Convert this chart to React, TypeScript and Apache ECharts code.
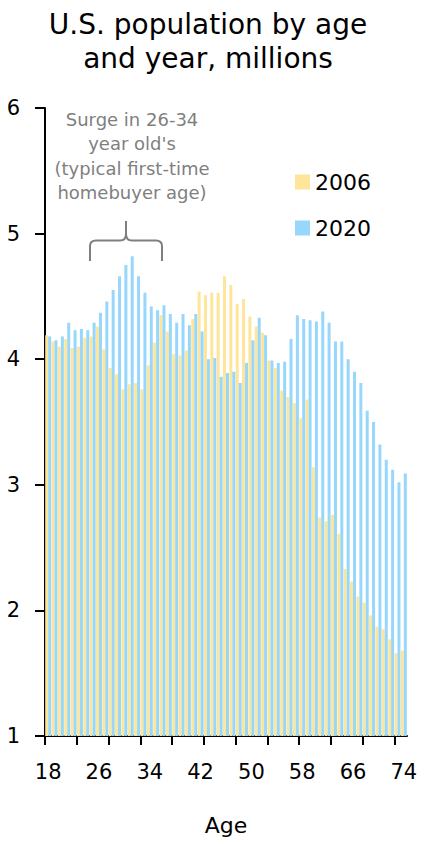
import React, { useEffect, useRef } from "react";
import * as echarts from "echarts";

const ages = [
  "18", "19", "20", "21", "22", "23", "24", "25", "26", "27",
  "28", "29", "30", "31", "32", "33", "34", "35", "36", "37",
  "38", "39", "40", "41", "42", "43", "44", "45", "46", "47",
  "48", "49", "50", "51", "52", "53", "54", "55", "56", "57",
  "58", "59", "60", "61", "62", "63", "64", "65", "66", "67",
  "68", "69", "70", "71", "72", "73", "74",
];
const tickBoundaries = [...ages, "75"];

const pop2006 = [
  4.19, 4.14, 4.10, 4.16, 4.09, 4.10, 4.17, 4.18, 4.26, 4.08,
  3.93, 3.88, 3.76, 3.80, 3.81, 3.76, 3.95, 4.13, 4.35, 4.22,
  4.04, 4.03, 4.07, 4.32, 4.54, 4.51, 4.53, 4.53, 4.66, 4.59,
  4.44, 4.48, 4.34, 4.26, 4.21, 3.99, 3.93, 3.75, 3.70, 3.65,
  3.53, 3.68, 3.14, 2.74, 2.71, 2.76, 2.61, 2.33, 2.23, 2.11,
  2.06, 1.96, 1.87, 1.85, 1.77, 1.66, 1.68,
];
const pop2020 = [
  4.18, 4.15, 4.18, 4.29, 4.23, 4.24, 4.23, 4.29, 4.37, 4.46,
  4.55, 4.66, 4.75, 4.82, 4.66, 4.53, 4.42, 4.39, 4.43, 4.36,
  4.29, 4.36, 4.27, 4.36, 4.22, 4.00, 4.01, 3.86, 3.89, 3.90,
  3.81, 3.97, 4.15, 4.33, 4.19, 3.99, 3.97, 3.98, 4.16, 4.35,
  4.32, 4.31, 4.30, 4.38, 4.29, 4.14, 4.14, 4.00, 3.90, 3.81,
  3.59, 3.50, 3.32, 3.20, 3.12, 3.02, 3.09,
];
const seriesNames = ["2006", "2020"];
const yTicks = { min: 1, max: 6, interval: 1 };

const FONT = "DejaVu Sans";
const C2006 = "#FFE59A";
const C2020 = "#96D7FB";

const BRACE_D =
  "M90,261 L90,246 Q90,240.5 96,240.5 L120,240.5 Q126,240.5 126,234 L126,221 M126,234 Q126,240.5 132,240.5 L156,240.5 Q162,240.5 162,246 L162,261";

let registered = false;
function ensureShape() {
  if (registered) return;
  echarts.graphic.registerShape("brace", echarts.graphic.extendPath(BRACE_D, {}));
  registered = true;
}

export default function App() {
  const ref = useRef<HTMLDivElement>(null);
  useEffect(() => {
    if (!ref.current) return;
    ensureShape();
    const chart = echarts.init(ref.current, undefined, { renderer: "svg" });
    chart.setOption({
      animation: false,
      backgroundColor: "#fff",
      textStyle: { fontFamily: FONT },
      title: {
        text: "U.S. population by age\nand year, millions",
        left: 203,
        top: 2,
        textAlign: "center",
        textStyle: {
          fontFamily: FONT,
          fontSize: 28,
          lineHeight: 34,
          fontWeight: "normal",
          color: "#000",
        },
      },
      legend: {
        data: seriesNames,
        orient: "vertical",
        left: 290,
        top: 166,
        itemWidth: 15,
        itemHeight: 15,
        itemGap: 24,
        icon: "rect",
        textStyle: { fontFamily: FONT, fontSize: 22, lineHeight: 22, color: "#000" },
      },
      grid: { left: 45, right: 18, top: 108, bottom: 108, containLabel: false },
      xAxis: [
        {
          type: "category",
          data: ages,
          position: "bottom",
          boundaryGap: true,
          axisLine: { lineStyle: { color: "#000", width: 2 } },
          axisTick: { show: false },
          axisLabel: {
            interval: 7,
            fontFamily: FONT,
            fontSize: 21,
            color: "#000",
            margin: 25,
          },
          name: "Age",
          nameLocation: "middle",
          nameGap: 78,
          nameTextStyle: { fontFamily: FONT, fontSize: 22, color: "#000" },
        },
        {
          type: "category",
          data: tickBoundaries,
          position: "bottom",
          boundaryGap: false,
          axisLine: { show: false },
          axisLabel: { show: false },
          splitLine: { show: false },
          axisTick: {
            show: true,
            interval: 4,
            length: 9,
            lineStyle: { color: "#000", width: 2 },
          },
        },
      ],
      yAxis: {
        type: "value",
        min: yTicks.min,
        max: yTicks.max,
        interval: yTicks.interval,
        axisLine: { show: true, lineStyle: { color: "#000", width: 2 } },
        axisTick: { show: true, length: 10, lineStyle: { color: "#000", width: 2 } },
        splitLine: { show: false },
        axisLabel: { fontFamily: FONT, fontSize: 21, color: "#000", margin: 25 },
      },
      series: [
        {
          name: seriesNames[0],
          type: "bar",
          data: pop2006,
          xAxisIndex: 0,
          itemStyle: { color: C2006 },
          barGap: "0%",
          barCategoryGap: "6%",
        },
        {
          name: seriesNames[1],
          type: "bar",
          data: pop2020,
          xAxisIndex: 0,
          itemStyle: { color: C2020 },
          barGap: "0%",
          barCategoryGap: "6%",
        },
      ],
      graphic: [
        {
          type: "text",
          x: 132,
          y: 107,
          style: {
            text: "Surge in 26-34\nyear old's\n(typical first-time\nhomebuyer age)",
            fontFamily: FONT,
            fontSize: 18,
            lineHeight: 24.5,
            fill: "#7F7F7F",
            align: "center",
            verticalAlign: "top",
          },
        },
        {
          type: "brace",
          x: 0,
          y: 0,
          style: { fill: "none", stroke: "#7F7F7F", lineWidth: 2 },
        },
      ],
    });
    return () => chart.dispose();
  }, []);
  return (
    <div
      ref={ref}
      style={{ position: "absolute", left: 0, top: 0, width: 425, height: 844 }}
    />
  );
}
